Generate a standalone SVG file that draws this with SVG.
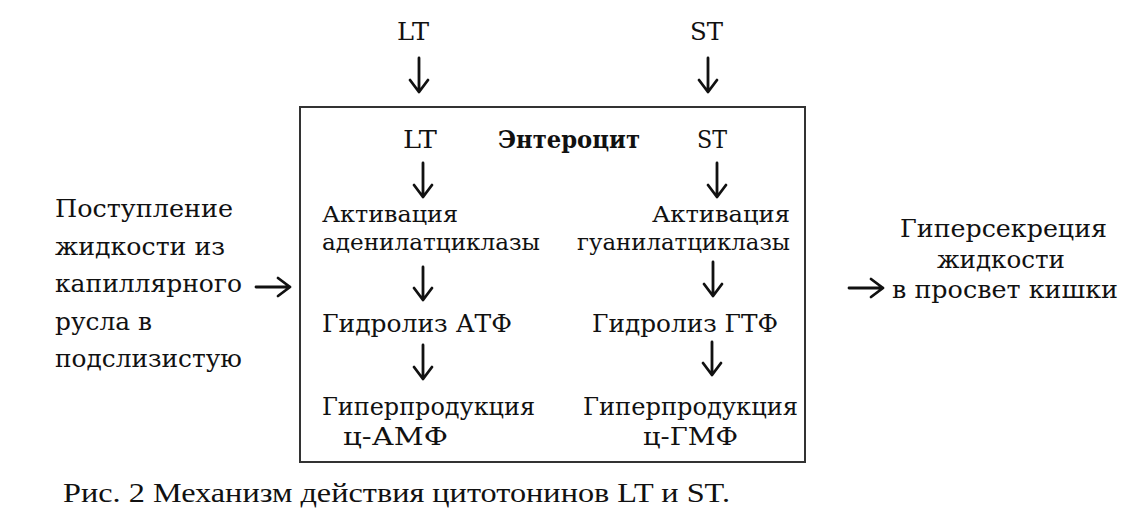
<svg xmlns="http://www.w3.org/2000/svg" width="1124" height="531" viewBox="0 0 1124 531">
<style>
  .t { font-family: 'DejaVu Serif', 'Liberation Serif', serif; font-size: 25px; fill: #111; }
  .s { font-size: 23px; }
  .b { font-family: 'DejaVu Serif', 'Liberation Serif', serif; font-size: 24px; font-weight: bold; fill: #111; }
  .cap { font-family: 'Liberation Serif', 'Times New Roman', serif; font-size: 28px; fill: #111; }
  .arr { fill: none; stroke: #111; stroke-width: 2.8; stroke-linecap: round; stroke-linejoin: round; }
  .box { fill: none; stroke: #333; stroke-width: 2; }
</style>
<rect width="1124" height="531" fill="#fff"/>

<g id="enterocyte">
  <rect class="box" x="300" y="107" width="505" height="355"/>
  <text class="b" x="498" y="148" textLength="142" lengthAdjust="spacingAndGlyphs">Энтероцит</text>
</g>

<g id="lt-top"><text class="t" x="397" y="40" textLength="32" lengthAdjust="spacingAndGlyphs">LT</text></g>
<g id="st-top"><text class="t" x="690" y="40" textLength="33" lengthAdjust="spacingAndGlyphs">ST</text></g>
<g id="lt-in"><text class="t" x="403" y="148" textLength="34" lengthAdjust="spacingAndGlyphs">LT</text></g>
<g id="st-in"><text class="t" x="697" y="148" textLength="30" lengthAdjust="spacingAndGlyphs">ST</text></g>

<g id="act-aden">
  <text class="t s" x="322" y="222" textLength="136" lengthAdjust="spacingAndGlyphs">Активация</text>
  <text class="t s" x="322" y="250" textLength="218" lengthAdjust="spacingAndGlyphs">аденилатциклазы</text>
</g>
<g id="act-guan">
  <text class="t s" x="652" y="222" textLength="138" lengthAdjust="spacingAndGlyphs">Активация</text>
  <text class="t s" x="577" y="250" textLength="213" lengthAdjust="spacingAndGlyphs">гуанилатциклазы</text>
</g>
<g id="hydro-atf"><text class="t" x="322" y="332" textLength="190" lengthAdjust="spacingAndGlyphs">Гидролиз АТФ</text></g>
<g id="hydro-gtf"><text class="t" x="592" y="332" textLength="186" lengthAdjust="spacingAndGlyphs">Гидролиз ГТФ</text></g>
<g id="camp">
  <text class="t" x="322" y="415" textLength="213" lengthAdjust="spacingAndGlyphs">Гиперпродукция</text>
  <text class="t" x="343" y="445" textLength="105" lengthAdjust="spacingAndGlyphs">ц-АМФ</text>
</g>
<g id="cgmp">
  <text class="t" x="583" y="415" textLength="215" lengthAdjust="spacingAndGlyphs">Гиперпродукция</text>
  <text class="t" x="643" y="445" textLength="95" lengthAdjust="spacingAndGlyphs">ц-ГМФ</text>
</g>

<g id="inflow">
  <text class="t" x="55" y="217" textLength="178" lengthAdjust="spacingAndGlyphs">Поступление</text>
  <text class="t" x="55" y="255" textLength="170" lengthAdjust="spacingAndGlyphs">жидкости из</text>
  <text class="t" x="55" y="292" textLength="187" lengthAdjust="spacingAndGlyphs">капиллярного</text>
  <text class="t" x="55" y="330" textLength="97" lengthAdjust="spacingAndGlyphs">русла в</text>
  <text class="t" x="55" y="367" textLength="187" lengthAdjust="spacingAndGlyphs">подслизистую</text>
</g>

<g id="hypersecretion">
  <text class="t" x="900" y="237" textLength="207" lengthAdjust="spacingAndGlyphs">Гиперсекреция</text>
  <text class="t" x="937" y="268" textLength="128" lengthAdjust="spacingAndGlyphs">жидкости</text>
  <text class="t" x="892" y="298" textLength="226" lengthAdjust="spacingAndGlyphs">в просвет кишки</text>
</g>

<g id="connectors">
  <path class="arr" d="M419 58 V92 M410 80 L419 92 L428 80"/>
  <path class="arr" d="M708 58 V92 M699 80 L708 92 L717 80"/>
  <path class="arr" d="M423 163 V197 M414 185 L423 197 L432 185"/>
  <path class="arr" d="M717 163 V197 M708 185 L717 197 L726 185"/>
  <path class="arr" d="M423 267 V300 M414 288 L423 300 L432 288"/>
  <path class="arr" d="M713 262 V296 M704 284 L713 296 L722 284"/>
  <path class="arr" d="M423 345 V379 M414 367 L423 379 L432 367"/>
  <path class="arr" d="M712 342 V375 M703 363 L712 375 L721 363"/>
  <path class="arr" d="M256 287 H290 M278 278 L290 287 L278 296"/>
  <path class="arr" d="M849 288 H883 M871 279 L883 288 L871 297"/>
</g>

<g id="caption">
  <text class="cap" x="63" y="502" textLength="667" lengthAdjust="spacingAndGlyphs">Рис. 2 Механизм действия цитотонинов LT и ST.</text>
</g>
</svg>
